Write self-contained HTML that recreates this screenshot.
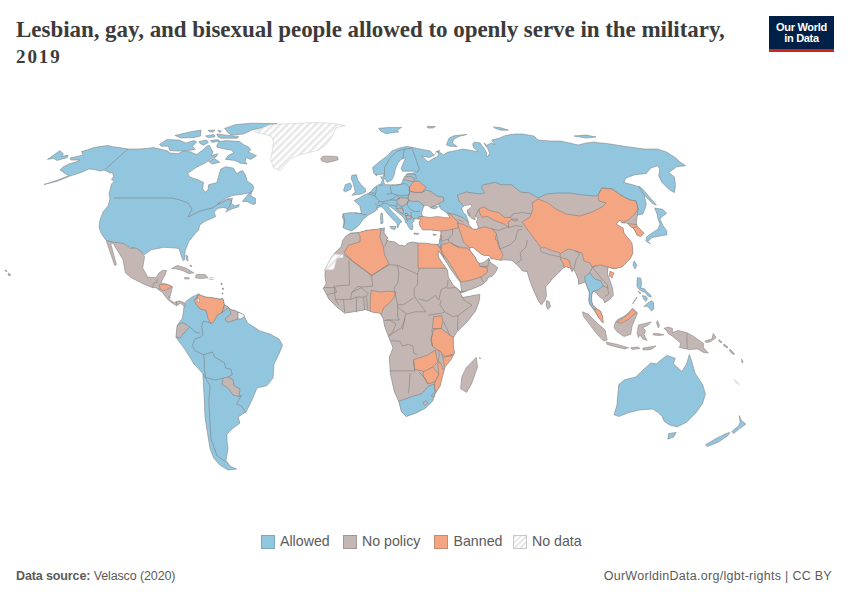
<!DOCTYPE html>
<html><head><meta charset="utf-8">
<style>
html,body{margin:0;padding:0;background:#fff;}
body{width:850px;height:600px;position:relative;overflow:hidden;font-family:"Liberation Sans",sans-serif;}
#title{position:absolute;left:16px;top:17px;width:740px;font-family:"Liberation Serif",serif;font-weight:bold;font-size:23px;line-height:25.5px;color:#3b3b3b;margin:0;letter-spacing:-0.04px}
#logo{position:absolute;left:769px;top:16px;width:65px;height:33px;background:#002147;border-bottom:3px solid #ce261e;color:#fff;font-weight:bold;font-size:11px;line-height:11px;text-align:center;}
#logo div{padding-top:6px;letter-spacing:-0.3px}
.leg{position:absolute;top:534px;height:14px;}
.sw{position:absolute;top:534.5px;width:14px;height:14px;border:1px solid #999;box-sizing:border-box;}
.lt{position:absolute;top:533px;font-size:14.2px;color:#5b5b5b;line-height:17px;}
#src{position:absolute;left:16px;top:569px;font-size:12.5px;color:#5b5b5b;letter-spacing:-0.12px}
#url{position:absolute;right:18px;top:569px;font-size:12.5px;color:#5b5b5b;letter-spacing:0.28px}
svg#map{position:absolute;left:0;top:0;}
.coast{stroke:#808080;stroke-width:0.55;stroke-linejoin:round}
.bord{stroke:#7a7a7a;stroke-width:0.55;stroke-linejoin:round}
.nd{stroke:#d0d0d0;stroke-width:0.6}
</style></head><body>
<div id="title">Lesbian, gay, and bisexual people allowed to openly serve in the military,<br><span style="font-size:19px;letter-spacing:1.9px">2019</span></div>
<div id="logo"><div>Our World<br>in Data</div></div>
<svg id="map" width="850" height="600" viewBox="0 0 850 600">
<defs>
<pattern id="hatch" patternUnits="userSpaceOnUse" width="5" height="5" patternTransform="rotate(45)"><rect width="5" height="5" fill="#fff"/><rect x="0" y="0" width="2.4" height="5" fill="#e6e6e6"/></pattern><pattern id="hatch2" patternUnits="userSpaceOnUse" width="4" height="4" patternTransform="rotate(45)"><rect width="4" height="4" fill="#fff"/><rect x="0" y="0" width="1.7" height="4" fill="#e2e2e2"/></pattern>
<clipPath id="clip_ae"><polygon points="377.1,175.7 373.5,173 372.6,167.5 379,162 386.3,156.5 391.8,151 399.1,148.2 406.5,146.4 412,147.3 421.1,149.2 430.3,151 434.1,155.3 437.6,154.1 436.5,151.2 440,150.6 435,156 436.9,151.4 441.6,153.2 443.5,155.1 447.2,152.3 453.8,150.9 463.2,149 468.9,150 476.4,151.4 478.3,151.8 473.6,147.6 472.6,143.8 474.5,142 480.1,142.9 482.1,145.7 484.9,149.5 486.8,153.2 486.3,156.1 487.7,156.5 489.6,153.2 487.7,148.5 484.9,144.8 483.9,142.9 486.8,145.2 491.5,142.9 495.2,144.8 491.5,140.1 499,138.2 505.6,135.4 515,134 522,134 534,136 538,140 550,141 560,141 570,143 578,145 586,143 594,142 600,143 603.5,143 626,146.5 644,149 657.5,149 666.5,152 675.5,157.8 680,162 685.7,165.7 676.7,166.8 668.8,172.4 674.4,177 675.5,184.8 674.4,192.7 668.8,189.3 662,182.5 658.7,175.8 659.8,169 657.5,165.7 650.8,168 646.3,173.5 635,174.7 626,178 623.8,182.5 632.8,184.8 639.5,187 644,193.8 646.3,205 642.9,214 637.3,215.2 636.2,223 637.3,226.4 644,233.2 640.7,236.6 637.3,235.4 635,231 632.8,227.6 631.6,227.6 627.1,223 622,223 620,220 616,224 623,228 624,233 632,243 633,253 630,259 622,267 614,269 608,267 607.3,274 610,280.7 612.7,288.7 613.3,295.3 610,299.3 604.7,302.7 603.3,299.3 598.7,296 596,292.5 593.3,291.3 592,294 591.3,299.3 592.7,304.7 596.7,308.7 600.7,311.3 602.7,316.7 603.3,322.7 602,322 598,316.7 594,310 590,304.7 588.7,300.7 589.3,292.7 587.3,287.3 585.3,282 582,283.1 578.5,284.3 578.5,279.7 576.1,273.8 573.8,269.2 572,271.5 570.3,268 565.6,266.8 563.3,268 558.6,272.7 551.6,279.7 545.8,286.6 546.4,296 544.7,300.6 541.2,304.7 537.7,299.5 533,289 529.5,279.7 527.2,271.5 522.5,270.9 520.2,268 516.7,264.5 512,260.4 505,259.8 500,260.3 494.8,259.1 491,258.8 490.3,256.5 488,255.4 485,255.8 481.3,254.3 477.5,251.3 473,247.5 470,247.5 470,250.5 475.3,257.3 477.5,261.8 479.8,263.3 483.5,262.5 486.5,260.3 488.8,258 489.5,259.5 490.3,262.5 494,264.8 497.8,267.8 495.5,272.3 492.5,276 488,277.5 486.7,280.8 481.7,285 475.8,287.5 469.2,290 462.5,292.5 461.7,292.5 460.4,282.5 456.7,277.5 451.3,270 445.4,260.5 440,252.5 438.3,251 438.3,256.7 443,264 447.5,270 448.3,276.7 452.5,284.2 456.7,288.3 461.3,292.5 460.8,294.2 462.5,297.5 469.2,296.3 475.8,295 480,294.6 479,301.7 475.5,311 468.5,320.3 461.5,327.4 456.8,332 453.3,337.9 453.3,344.9 454.5,353 451,359.7 445,367 442.5,376.7 440,386.3 435.2,393.6 432.8,400.8 425.6,408 416,413 406.2,416.5 401.4,411.7 399,402 394.2,391.2 390.5,374.2 389.3,357.3 393,347.7 388.1,335.6 384.5,326 383.3,318.7 380,313.2 373,312.3 365.9,309.7 355.3,311.5 344.7,313.2 335.9,306.2 328.8,299 325.3,292 323.2,288.5 326.2,283.8 325,276.8 325,269.8 328.5,262.8 330.8,258.2 333.7,254.1 335.5,252.3 341.3,246.5 342.5,240.7 346,236 350.7,233.1 358.8,232.5 367,230.2 378.6,229 384.5,227.8 384,233 388,238 386,240 389,241 395,242 399,245 405,246 408,243 413,242 418,243 425,243 431,244 438.2,244.5 439.1,244 439.7,240.1 440.4,236.5 441,233 440.8,231 440,231 431,230 423,230 420,226 419,222 421,219.5 419,219 417,218 413,219 414.5,221 412,223 413,227 412,230 410,229 408,226 407,223 405.5,223 405,220 403,217 399,213.5 394,209.5 390,206.5 388.5,207.5 392.5,212 397,216.5 401,220.5 402,222 400,222.5 399,225 397.5,228 397,223.5 395,221.5 391,217.5 387,213 384,209 381,206.5 377,208 375.4,211.2 368,215.3 363,219.4 359.7,224.4 356.4,227.7 351.5,231 346.5,229.3 343.2,227.7 344,221 342.4,217 343.2,213.7 351.5,212.5 361.4,213.7 360,206 354,200.5 358,198.8 363.5,195.3 368.2,193.5 370.6,191.8 374.1,187.6 377.6,185.3 381.2,183.5 382.4,180 380.6,176.5 383.5,177.6 383,173.5 380,174.7 375.3,174.7"/></clipPath>
<clipPath id="clip_sa"><polygon points="184,305.6 185.6,301.7 192,297 199,293.7 196,298.5 199,294.5 203,296 206,297 212.6,297.7 219.8,299 223,298.5 224.5,304.8 228.5,307.2 230.9,309.6 235,310.4 238,312 243.6,314.4 247.5,323 254,327 260,331 270,334 279,339 282.5,345 279,354 274,364 273,378 267,385.6 257,388 252,400 246,412 238,417 240,423 232,429 227,434 227,441 228,448.4 226,460.5 230.6,466.5 236.6,469 228,470 219.7,465 213.7,458 210,448.4 207.6,434 205,417 204,395 202.8,373.5 194,364 184.7,349 176,337.4 176,336 177,326 177.7,324.7 182.5,318 184,307"/></clipPath>
</defs>
<g id="land" stroke="#777" stroke-width="0.5" stroke-linejoin="round">
<polygon points="377.1,175.7 373.5,173 372.6,167.5 379,162 386.3,156.5 391.8,151 399.1,148.2 406.5,146.4 412,147.3 421.1,149.2 430.3,151 434.1,155.3 437.6,154.1 436.5,151.2 440,150.6 435,156 436.9,151.4 441.6,153.2 443.5,155.1 447.2,152.3 453.8,150.9 463.2,149 468.9,150 476.4,151.4 478.3,151.8 473.6,147.6 472.6,143.8 474.5,142 480.1,142.9 482.1,145.7 484.9,149.5 486.8,153.2 486.3,156.1 487.7,156.5 489.6,153.2 487.7,148.5 484.9,144.8 483.9,142.9 486.8,145.2 491.5,142.9 495.2,144.8 491.5,140.1 499,138.2 505.6,135.4 515,134 522,134 534,136 538,140 550,141 560,141 570,143 578,145 586,143 594,142 600,143 603.5,143 626,146.5 644,149 657.5,149 666.5,152 675.5,157.8 680,162 685.7,165.7 676.7,166.8 668.8,172.4 674.4,177 675.5,184.8 674.4,192.7 668.8,189.3 662,182.5 658.7,175.8 659.8,169 657.5,165.7 650.8,168 646.3,173.5 635,174.7 626,178 623.8,182.5 632.8,184.8 639.5,187 644,193.8 646.3,205 642.9,214 637.3,215.2 636.2,223 637.3,226.4 644,233.2 640.7,236.6 637.3,235.4 635,231 632.8,227.6 631.6,227.6 627.1,223 622,223 620,220 616,224 623,228 624,233 632,243 633,253 630,259 622,267 614,269 608,267 607.3,274 610,280.7 612.7,288.7 613.3,295.3 610,299.3 604.7,302.7 603.3,299.3 598.7,296 596,292.5 593.3,291.3 592,294 591.3,299.3 592.7,304.7 596.7,308.7 600.7,311.3 602.7,316.7 603.3,322.7 602,322 598,316.7 594,310 590,304.7 588.7,300.7 589.3,292.7 587.3,287.3 585.3,282 582,283.1 578.5,284.3 578.5,279.7 576.1,273.8 573.8,269.2 572,271.5 570.3,268 565.6,266.8 563.3,268 558.6,272.7 551.6,279.7 545.8,286.6 546.4,296 544.7,300.6 541.2,304.7 537.7,299.5 533,289 529.5,279.7 527.2,271.5 522.5,270.9 520.2,268 516.7,264.5 512,260.4 505,259.8 500,260.3 494.8,259.1 491,258.8 490.3,256.5 488,255.4 485,255.8 481.3,254.3 477.5,251.3 473,247.5 470,247.5 470,250.5 475.3,257.3 477.5,261.8 479.8,263.3 483.5,262.5 486.5,260.3 488.8,258 489.5,259.5 490.3,262.5 494,264.8 497.8,267.8 495.5,272.3 492.5,276 488,277.5 486.7,280.8 481.7,285 475.8,287.5 469.2,290 462.5,292.5 461.7,292.5 460.4,282.5 456.7,277.5 451.3,270 445.4,260.5 440,252.5 438.3,251 438.3,256.7 443,264 447.5,270 448.3,276.7 452.5,284.2 456.7,288.3 461.3,292.5 460.8,294.2 462.5,297.5 469.2,296.3 475.8,295 480,294.6 479,301.7 475.5,311 468.5,320.3 461.5,327.4 456.8,332 453.3,337.9 453.3,344.9 454.5,353 451,359.7 445,367 442.5,376.7 440,386.3 435.2,393.6 432.8,400.8 425.6,408 416,413 406.2,416.5 401.4,411.7 399,402 394.2,391.2 390.5,374.2 389.3,357.3 393,347.7 388.1,335.6 384.5,326 383.3,318.7 380,313.2 373,312.3 365.9,309.7 355.3,311.5 344.7,313.2 335.9,306.2 328.8,299 325.3,292 323.2,288.5 326.2,283.8 325,276.8 325,269.8 328.5,262.8 330.8,258.2 333.7,254.1 335.5,252.3 341.3,246.5 342.5,240.7 346,236 350.7,233.1 358.8,232.5 367,230.2 378.6,229 384.5,227.8 384,233 388,238 386,240 389,241 395,242 399,245 405,246 408,243 413,242 418,243 425,243 431,244 438.2,244.5 439.1,244 439.7,240.1 440.4,236.5 441,233 440.8,231 440,231 431,230 423,230 420,226 419,222 421,219.5 419,219 417,218 413,219 414.5,221 412,223 413,227 412,230 410,229 408,226 407,223 405.5,223 405,220 403,217 399,213.5 394,209.5 390,206.5 388.5,207.5 392.5,212 397,216.5 401,220.5 402,222 400,222.5 399,225 397.5,228 397,223.5 395,221.5 391,217.5 387,213 384,209 381,206.5 377,208 375.4,211.2 368,215.3 363,219.4 359.7,224.4 356.4,227.7 351.5,231 346.5,229.3 343.2,227.7 344,221 342.4,217 343.2,213.7 351.5,212.5 361.4,213.7 360,206 354,200.5 358,198.8 363.5,195.3 368.2,193.5 370.6,191.8 374.1,187.6 377.6,185.3 381.2,183.5 382.4,180 380.6,176.5 383.5,177.6 383,173.5 380,174.7 375.3,174.7" fill="#92c5de" stroke="none"/>
<polygon points="184,305.6 185.6,301.7 192,297 199,293.7 196,298.5 199,294.5 203,296 206,297 212.6,297.7 219.8,299 223,298.5 224.5,304.8 228.5,307.2 230.9,309.6 235,310.4 238,312 243.6,314.4 247.5,323 254,327 260,331 270,334 279,339 282.5,345 279,354 274,364 273,378 267,385.6 257,388 252,400 246,412 238,417 240,423 232,429 227,434 227,441 228,448.4 226,460.5 230.6,466.5 236.6,469 228,470 219.7,465 213.7,458 210,448.4 207.6,434 205,417 204,395 202.8,373.5 194,364 184.7,349 176,337.4 176,336 177,326 177.7,324.7 182.5,318 184,307" fill="#92c5de" stroke="none"/>
<polygon points="315,238 330,238 350,233.5 357,232.2 366,230.5 380,228.5 386,232 400,236 420,240 434,243 438.5,245 441,255 448,266 455,278 460,291.8 470,291 483,289 495,289 500,300 480,360 450,425 330,425 315,300" fill="#c4b7b3" stroke="#7a7a7a" stroke-width="0.55" clip-path="url(#clip_ae)"/>
<polygon points="417.5,218.5 419,216.8 423,216.5 425,213 440,213 447,212.6 456.5,215 463.5,218 468.2,222 470,215 463.5,205.6 458.8,200.9 457.6,195 466,192 480,194 484.7,192.8 481.7,188.2 482.3,185.2 495.2,182.3 501,184.7 511.5,184.7 520.8,192.2 529,192.8 538.3,198 546.5,194 557,193 570,193 582,195 596,196 598,195 602,188 612,189 622,196 630,200 636,201 638,209 637.3,215.2 650,220 660,300 610,330 580,330 540,310 500,300 495,289 483,289 470,291 460,291.8 455,278 448,266 441,255 438.5,245 439,238 441,232 440,234 425,234 416,226 418,221" fill="#c4b7b3" stroke="#7a7a7a" stroke-width="0.55" clip-path="url(#clip_ae)"/>
<polygon points="409,190 411,191.5 417,192.5 423,192 426,190 431,191.5 437,196 443,197 444,201 440,203 435,206 431,207 433,209 428,208 425,207 422,204 418,201 413,201.5 409,200.5 408,197 409.5,193" fill="#c4b7b3" stroke="#7a7a7a" stroke-width="0.55" clip-path="url(#clip_ae)"/>
<polygon points="401,177.6 404,176.8 410.6,176.5 415.3,178.8 412.9,181.8 405.9,180 401,180" fill="#c4b7b3" stroke="#7a7a7a" stroke-width="0.55" clip-path="url(#clip_ae)"/>
<polygon points="397,199.5 400,197.5 408,198 408.5,200.5 406,204.5 401.5,206.5 397,203.5" fill="#c4b7b3" stroke="#7a7a7a" stroke-width="0.55" clip-path="url(#clip_ae)"/>
<polygon points="396,208.5 401.5,208 403.5,211 403,214 400,212.5" fill="#c4b7b3" stroke="#7a7a7a" stroke-width="0.55" clip-path="url(#clip_ae)"/>
<polygon points="405,213.5 407.5,213.5 408,216 405.5,216" fill="#c4b7b3" stroke="#7a7a7a" stroke-width="0.55" clip-path="url(#clip_ae)"/>
<polygon points="406,215.5 411,216 411,219 406.5,219" fill="#c4b7b3" stroke="#7a7a7a" stroke-width="0.55" clip-path="url(#clip_ae)"/>
<polygon points="409.5,187 413.5,181.5 419,181 422,184 426.5,187.5 424,189.5 423,192 417,192.5 411,191.5 409,190" fill="#f4a582" stroke="#7a7a7a" stroke-width="0.55" clip-path="url(#clip_ae)"/>
<polygon points="417.5,218.5 419,216.8 423,216.5 425,213 440,213 450,214 457,221 458.6,225 457.6,228 453,229.1 447,230.3 441,231 440,234 425,234 416,226 418,221" fill="#f4a582" stroke="#7a7a7a" stroke-width="0.55" clip-path="url(#clip_ae)"/>
<polygon points="357.5,232 366,229.8 378,228.5 381,228.5 379.8,237.2 383.3,246.5 384.5,254.7 389.1,264 371.6,275.6 353,261.6 344.2,252.3 348.3,245.3 360,241.8 360,236" fill="#f4a582" stroke="#7a7a7a" stroke-width="0.55" clip-path="url(#clip_ae)"/>
<polygon points="418,236 437,238 439,245 440.5,249 442,253 445.5,261 448,268.2 418,268.2" fill="#f4a582" stroke="#7a7a7a" stroke-width="0.55" clip-path="url(#clip_ae)"/>
<polygon points="371.2,290.3 380,292 388.8,291.2 395.9,292 394.1,297.3 389.7,302.6 383.5,308 380,318 370,316 370.3,299" fill="#f4a582" stroke="#7a7a7a" stroke-width="0.55" clip-path="url(#clip_ae)"/>
<polygon points="433.5,316.8 441.7,315.7 442.8,321.5 441.1,328.5 432.3,328.5" fill="#f4a582" stroke="#7a7a7a" stroke-width="0.55" clip-path="url(#clip_ae)"/>
<polygon points="433.5,329.7 441.1,328.5 452.2,336.7 458,338 460,353 455.7,353.6 445.2,356.5 438.2,350.7 432.3,346 431.2,339" fill="#f4a582" stroke="#7a7a7a" stroke-width="0.55" clip-path="url(#clip_ae)"/>
<polygon points="413.5,359.7 428,355 435.2,350 437.7,362.2 432.8,367 425.6,371.8 414.7,369.4" fill="#f4a582" stroke="#7a7a7a" stroke-width="0.55" clip-path="url(#clip_ae)"/>
<polygon points="423.2,371.8 432.8,367 438.9,374.2 435.2,381.5 428,384 423.2,376.7" fill="#f4a582" stroke="#7a7a7a" stroke-width="0.55" clip-path="url(#clip_ae)"/>
<polygon points="442.5,357.3 454.6,355 460,355 455,370 445,369.4 442.5,379 440,388.7 438,396 435.2,392.4 434,384 438.9,374.2 437.7,364.6" fill="#f4a582" stroke="#7a7a7a" stroke-width="0.55" clip-path="url(#clip_ae)"/>
<polygon points="457.6,223.2 463.5,224.4 468.2,226.8 475.3,229.1 484.7,226.8 492.9,229.1 496.5,233.8 495.3,239.7 497,240 498.5,246 503,255 500.8,260.3 500.8,262 491,259.5 490,257.3 486,256.7 481,255.3 477,252.5 470,248.2 468.2,246.8 463.5,242 461.2,235 458.8,228" fill="#f4a582" stroke="#7a7a7a" stroke-width="0.55" clip-path="url(#clip_ae)"/>
<polygon points="441.2,249.7 442,244.2 446.7,243.6 449,241.8 454.2,245.3 462.4,247.7 467.7,248.2 470,250.5 475.3,257.3 479,263.3 479.8,266.3 487.3,267.8 487.3,272.3 481.3,276.8 470,280.5 461,282 457.3,276 452.5,268 448.2,261 444,255.3" fill="#f4a582" stroke="#7a7a7a" stroke-width="0.55" clip-path="url(#clip_ae)"/>
<polygon points="478.8,209.1 483.5,206.8 489.4,210.3 494.1,211.5 498.8,212.6 504.7,217.4 510.6,217.4 511.8,219.7 508.2,222 508.8,227.4 504.7,224.4 498.8,222 492.9,219.7 487,216.2 482.4,217.4 480,213.8" fill="#f4a582" stroke="#7a7a7a" stroke-width="0.55" clip-path="url(#clip_ae)"/>
<polygon points="512,219 517.6,219 517.6,220.5 513,221" fill="#f4a582" stroke="#7a7a7a" stroke-width="0.55" clip-path="url(#clip_ae)"/>
<polygon points="522,222 530,217 533,209 532,203 538,199 548,203 556,209 566,214 580,216 592,212 602,207 606,203 599,201 598,195 602,188 612,189 622,196 630,200 636,201 638,209 634,215 628,220 622,223 640,225 640,260 625,272 614,269 608,267 600,265 592,267 590,263 584,261 582,253 576,251 568,249 560,254 550,251 542,249 536,241 530,233" fill="#f4a582" stroke="#7a7a7a" stroke-width="0.55" clip-path="url(#clip_ae)"/>
<polygon points="632.8,227.6 637.3,226.4 646,232 642,239 636,237 635,231" fill="#f4a582" stroke="#7a7a7a" stroke-width="0.55" clip-path="url(#clip_ae)"/>
<polygon points="560.4,257.5 565.6,258.7 569.1,260.4 570.3,264.5 572,269.2 574,272 565,272 563.3,263.3 561,260.4" fill="#f4a582" stroke="#7a7a7a" stroke-width="0.55" clip-path="url(#clip_ae)"/>
<polygon points="594,310 596.7,308.7 600.7,311.3 602.7,316.7 605,323 600,323 598,316.7" fill="#f4a582" stroke="#7a7a7a" stroke-width="0.55" clip-path="url(#clip_ae)"/>
<polygon points="437,239.5 439.7,240.1 441.4,239.5 440.8,244.2 440.2,248.2 439.1,246.5 437,245" fill="#92c5de" stroke="#7a7a7a" stroke-width="0.55" clip-path="url(#clip_ae)"/>
<polygon points="438,235.4 440.8,235.4 442,236 441.4,239.5 440.2,238.9 438,238.9" fill="#f4a582" stroke="#7a7a7a" stroke-width="0.55" clip-path="url(#clip_ae)"/>
<polygon points="395,402 400.2,400.8 413.5,396 422,393.6 428,386.3 434,384 435.2,393.6 440,395 440,420 395,420" fill="#92c5de" stroke="#7a7a7a" stroke-width="0.55" clip-path="url(#clip_ae)"/>
<polygon points="584.7,276.7 590,272.7 592.7,276.7 595.3,279.3 600.7,280.7 603.3,286 598,290 593.3,291.3 592,294 591.3,299.3 592.7,304.7 596.7,308.7 594.7,309.3 590,304.7 588.7,300.7 589.3,292.7 587.3,287.3 585.3,282" fill="#92c5de" stroke="#7a7a7a" stroke-width="0.55" clip-path="url(#clip_ae)"/>
<polygon points="196,298.5 199,294.5 203,296 206,297 212.6,297.7 219.8,299 223,298.5 224.5,304.8 222,312.8 217.4,315 214,321.5 211,324 208,318.3 206,310.4 200,309 196,304 194,300" fill="#f4a582" stroke="#7a7a7a" stroke-width="0.55" clip-path="url(#clip_sa)"/>
<polygon points="224.5,304.8 228.5,307.2 230.9,309.6 235,310.4 239.6,312.8 238,319 233,320.7 227.7,322.3 225,319 231,313.6 228.5,307.2 222,312.8" fill="#c4b7b3" stroke="#7a7a7a" stroke-width="0.55" clip-path="url(#clip_sa)"/>
<polygon points="238,312 243.6,313.6 245,316 241,319 238,319" fill="#f4f4f4" stroke="#7a7a7a" stroke-width="0.55" clip-path="url(#clip_sa)"/>
<polygon points="170,326 177,326 181,323 184,323 189.6,327 185.6,331 180,338 176,337 170,336" fill="#c4b7b3" stroke="#7a7a7a" stroke-width="0.55" clip-path="url(#clip_sa)"/>
<polygon points="223,378.3 228,377 233,379.5 234,385.6 240,389 239,396.5 233,395 228,388 222,384.4" fill="#c4b7b3" stroke="#7a7a7a" stroke-width="0.55" clip-path="url(#clip_sa)"/>
<polygon points="377.1,175.7 373.5,173 372.6,167.5 379,162 386.3,156.5 391.8,151 399.1,148.2 406.5,146.4 412,147.3 421.1,149.2 430.3,151 434.1,155.3 437.6,154.1 436.5,151.2 440,150.6 435,156 436.9,151.4 441.6,153.2 443.5,155.1 447.2,152.3 453.8,150.9 463.2,149 468.9,150 476.4,151.4 478.3,151.8 473.6,147.6 472.6,143.8 474.5,142 480.1,142.9 482.1,145.7 484.9,149.5 486.8,153.2 486.3,156.1 487.7,156.5 489.6,153.2 487.7,148.5 484.9,144.8 483.9,142.9 486.8,145.2 491.5,142.9 495.2,144.8 491.5,140.1 499,138.2 505.6,135.4 515,134 522,134 534,136 538,140 550,141 560,141 570,143 578,145 586,143 594,142 600,143 603.5,143 626,146.5 644,149 657.5,149 666.5,152 675.5,157.8 680,162 685.7,165.7 676.7,166.8 668.8,172.4 674.4,177 675.5,184.8 674.4,192.7 668.8,189.3 662,182.5 658.7,175.8 659.8,169 657.5,165.7 650.8,168 646.3,173.5 635,174.7 626,178 623.8,182.5 632.8,184.8 639.5,187 644,193.8 646.3,205 642.9,214 637.3,215.2 636.2,223 637.3,226.4 644,233.2 640.7,236.6 637.3,235.4 635,231 632.8,227.6 631.6,227.6 627.1,223 622,223 620,220 616,224 623,228 624,233 632,243 633,253 630,259 622,267 614,269 608,267 607.3,274 610,280.7 612.7,288.7 613.3,295.3 610,299.3 604.7,302.7 603.3,299.3 598.7,296 596,292.5 593.3,291.3 592,294 591.3,299.3 592.7,304.7 596.7,308.7 600.7,311.3 602.7,316.7 603.3,322.7 602,322 598,316.7 594,310 590,304.7 588.7,300.7 589.3,292.7 587.3,287.3 585.3,282 582,283.1 578.5,284.3 578.5,279.7 576.1,273.8 573.8,269.2 572,271.5 570.3,268 565.6,266.8 563.3,268 558.6,272.7 551.6,279.7 545.8,286.6 546.4,296 544.7,300.6 541.2,304.7 537.7,299.5 533,289 529.5,279.7 527.2,271.5 522.5,270.9 520.2,268 516.7,264.5 512,260.4 505,259.8 500,260.3 494.8,259.1 491,258.8 490.3,256.5 488,255.4 485,255.8 481.3,254.3 477.5,251.3 473,247.5 470,247.5 470,250.5 475.3,257.3 477.5,261.8 479.8,263.3 483.5,262.5 486.5,260.3 488.8,258 489.5,259.5 490.3,262.5 494,264.8 497.8,267.8 495.5,272.3 492.5,276 488,277.5 486.7,280.8 481.7,285 475.8,287.5 469.2,290 462.5,292.5 461.7,292.5 460.4,282.5 456.7,277.5 451.3,270 445.4,260.5 440,252.5 438.3,251 438.3,256.7 443,264 447.5,270 448.3,276.7 452.5,284.2 456.7,288.3 461.3,292.5 460.8,294.2 462.5,297.5 469.2,296.3 475.8,295 480,294.6 479,301.7 475.5,311 468.5,320.3 461.5,327.4 456.8,332 453.3,337.9 453.3,344.9 454.5,353 451,359.7 445,367 442.5,376.7 440,386.3 435.2,393.6 432.8,400.8 425.6,408 416,413 406.2,416.5 401.4,411.7 399,402 394.2,391.2 390.5,374.2 389.3,357.3 393,347.7 388.1,335.6 384.5,326 383.3,318.7 380,313.2 373,312.3 365.9,309.7 355.3,311.5 344.7,313.2 335.9,306.2 328.8,299 325.3,292 323.2,288.5 326.2,283.8 325,276.8 325,269.8 328.5,262.8 330.8,258.2 333.7,254.1 335.5,252.3 341.3,246.5 342.5,240.7 346,236 350.7,233.1 358.8,232.5 367,230.2 378.6,229 384.5,227.8 384,233 388,238 386,240 389,241 395,242 399,245 405,246 408,243 413,242 418,243 425,243 431,244 438.2,244.5 439.1,244 439.7,240.1 440.4,236.5 441,233 440.8,231 440,231 431,230 423,230 420,226 419,222 421,219.5 419,219 417,218 413,219 414.5,221 412,223 413,227 412,230 410,229 408,226 407,223 405.5,223 405,220 403,217 399,213.5 394,209.5 390,206.5 388.5,207.5 392.5,212 397,216.5 401,220.5 402,222 400,222.5 399,225 397.5,228 397,223.5 395,221.5 391,217.5 387,213 384,209 381,206.5 377,208 375.4,211.2 368,215.3 363,219.4 359.7,224.4 356.4,227.7 351.5,231 346.5,229.3 343.2,227.7 344,221 342.4,217 343.2,213.7 351.5,212.5 361.4,213.7 360,206 354,200.5 358,198.8 363.5,195.3 368.2,193.5 370.6,191.8 374.1,187.6 377.6,185.3 381.2,183.5 382.4,180 380.6,176.5 383.5,177.6 383,173.5 380,174.7 375.3,174.7" fill="none" class="coast"/>
<polygon points="184,305.6 185.6,301.7 192,297 199,293.7 196,298.5 199,294.5 203,296 206,297 212.6,297.7 219.8,299 223,298.5 224.5,304.8 228.5,307.2 230.9,309.6 235,310.4 238,312 243.6,314.4 247.5,323 254,327 260,331 270,334 279,339 282.5,345 279,354 274,364 273,378 267,385.6 257,388 252,400 246,412 238,417 240,423 232,429 227,434 227,441 228,448.4 226,460.5 230.6,466.5 236.6,469 228,470 219.7,465 213.7,458 210,448.4 207.6,434 205,417 204,395 202.8,373.5 194,364 184.7,349 176,337.4 176,336 177,326 177.7,324.7 182.5,318 184,307" fill="none" class="coast"/>
<polygon points="44,184.5 58,180 69,175.5 65,173.5 60,170 63,167 69,164 76,162 80,160 71,160 70,158 79,156 83,155 81.5,151.5 87,150 94,147.5 100,146.5 108,145.5 113,146.8 119,147.5 128,149 140,149 150,148.1 152.8,147.6 157.5,148.6 162.2,149.5 167.9,151 168.8,152.8 178.2,153.8 183,151 191.4,151.9 194.2,153.8 198,154.2 198.9,152.8 202.7,150 206.5,146.2 209.3,145.3 211.2,149 213.1,151.9 211.2,155.6 217.8,153.8 216,157 211,158.5 205,163 196,167.5 187.7,173.5 190,177.2 197.5,179.5 203.5,182.5 202.7,188.5 205,192.2 208,190 208.7,184.7 217,182.5 218.5,176.5 220.7,169 226,166.7 233.5,168.2 236.5,173.5 242.5,170.5 245.5,175 247,181 252.3,184.6 253.9,187.6 252.3,191.5 248.5,193 240.9,194.5 233.2,195.3 227.1,197.6 221.8,201.4 217.9,203.7 221.8,203 227.1,199.1 232.5,198.3 231,203 234.8,206 239.3,204.5 238.6,206.8 231.7,209 225.6,212.1 227.9,209 224,207.5 218,208.3 214.1,212.1 215.6,216.7 210.3,219 205,221.3 199.6,225 198.7,230 195.4,233.3 188.8,241.5 185,251 184.7,259.7 183.1,260.5 181,255 179,248.6 175.7,248.1 164.1,247.3 151,249.8 144.4,254.7 138,249 129,247 125,244 116,243 107,241 105,239 101,233 99,227 100,220 103,212 108,206 110,199 109,194 110,190 111.5,184 114.5,181 111.5,179.5 113.5,176.5 112.5,172.2 110,173 104.5,170 100,171 94,169.5 89,169 82,172.2 70,176 58,181" fill="#92c5de" class="coast"/>
<polygon points="242.4,201.4 248.5,193.8 251.6,191.5 250.8,196 255.4,198.3 255.4,203.7 253.1,204.5 250,203 247,201.4" fill="#92c5de" class="coast"/>
<polygon points="216.9,145.3 218.8,141.5 226.4,140.6 239.5,141.5 243.3,144.4 248.9,147.2 250.8,150 248,151.9 256.5,155.6 250.8,159.4 246.1,157.5 245.2,161.3 247.1,164.1 240.5,163.2 234.8,160.4 225.4,159.4 228.2,155.6 234,152.5 231,150 224.5,149 216.9,147.2" fill="#92c5de" class="coast"/>
<polygon points="208.5,161.3 214.1,158.5 219.8,162.2 212.2,164.1" fill="#92c5de" class="coast"/>
<polygon points="159.4,144.4 166.9,139.6 179.2,140.1 185.8,143 194.2,140.6 196.6,142 192.4,146.2 195.2,149.5 187.6,150.5 178.2,151.1 169.8,150.5 168.4,146.2 161.3,146.2" fill="#92c5de" class="coast"/>
<polygon points="175,135.5 189.5,132 201,130 200.5,136 194,137.5 181,138" fill="#92c5de" class="coast"/>
<polygon points="205.5,135.9 214,134.5 215,136.8 208.4,137.8" fill="#92c5de" class="coast"/>
<polygon points="208.4,130.2 215,130.2 213,132.1 209.3,131.6" fill="#92c5de" class="coast"/>
<polygon points="217.8,130.2 221.5,131.2 219.6,132.6" fill="#92c5de" class="coast"/>
<polygon points="199,141.5 206.5,140.1 208.4,142.5 203.6,145.3 199.9,143.4" fill="#92c5de" class="coast"/>
<polygon points="210.2,140.6 217.8,139.6 219.6,141 212.1,142.5" fill="#92c5de" class="coast"/>
<polygon points="216.9,134 228.2,135.4 238.6,136.4 237.6,138.2 220.7,138.2 217.9,136.8" fill="#92c5de" class="coast"/>
<polygon points="224.5,128.4 230.1,126.5 235.8,124.6 250.8,123.2 277.2,123.6 269.6,126 252.7,129.8 243.3,134 231,135 227.3,132.1 226.4,130.2" fill="#92c5de" class="coast"/>
<polygon points="47.5,159.5 60,150.5 63.5,154 61.5,156.5 68,155 67.5,157.5 62,159 57,160.5 54,158.5 49,159" fill="#92c5de" class="coast"/>
<polygon points="106.5,240.7 114.7,242.4 123,243.2 129.5,248.1 136.1,248.1 141,251.4 144.4,256.4 144.4,258 142.7,267.9 147.7,277 155.9,277.8 159.2,272.8 162.5,270.4 166.6,270.4 165,275.3 162.5,279.4 160.8,282.7 167.4,284.4 172.4,286.8 170.7,294.3 169.1,299.2 174,302.5 179,300.8 183.9,302.5 185.6,305.8 184.7,306.6 180.6,303.3 176.5,305.8 172.4,303.3 167.4,299.2 162.5,292.6 155.9,287.7 152.6,287.7 144.4,284.4 131.2,277.8 125.4,272.8 123,259.7 113,243.2 110.6,243.2 116.4,264.6 114.7,265.4 106.5,241.5" fill="#c4b7b3" class="coast"/>
<polygon points="159.2,284.4 167.4,284.4 172.4,286.8 167.4,289.3 163.3,291 160,288.5" fill="#f4a582" class="coast"/>
<polygon points="171.5,268.7 177.3,265.4 185.6,267.9 193.8,272.8 188.8,273.7 182.3,270.4 175.7,268.7" fill="#c4b7b3" class="coast"/>
<polygon points="196.3,274.5 205.3,274.5 207.8,277.8 200.4,278.6 195.4,277.8" fill="#c4b7b3" class="coast"/>
<polygon points="184.7,277.5 189.7,278 188.5,279 184.5,278.8" fill="#c4b7b3" class="coast"/>
<polygon points="186,255 187.5,256 188,261 186.5,260" fill="#92c5de" class="coast"/>
<polygon points="254.7,131.5 261.8,128 271.2,124.4 285.3,123.8 299.4,123.2 315.9,122.6 332.4,123.2 345.3,125.6 335.9,128 333.5,133.8 330,139.7 325.3,145.6 318.2,150.3 308.8,152.6 299.4,155 291.2,158.5 285.3,164.4 280.6,170.9 273.5,168 270.6,159.7 272.4,150.3 273.5,142 271.2,136.2 262.9,133.8 255.9,132.6" fill="url(#hatch)" class="nd"/>
<polygon points="320.6,158.5 323,156.2 332.4,156.2 337.6,156.8 338.2,159.7 332.4,161.5 326.5,162.6 321.8,160.9" fill="#c4b7b3" class="coast"/>
<polygon points="351.8,175.3 356.5,174.7 357.6,180 361.2,184.7 365.3,188.8 365.9,191.8 361.2,194.1 351.8,195.3 355.3,191.8 354.1,187 352.9,182.4 351.2,178.8" fill="#92c5de" class="coast"/>
<polygon points="343.5,190.6 345.3,184.7 350,183 351.8,185.9 350.6,189.4 345.3,191.8" fill="#92c5de" class="coast"/>
<polygon points="378.7,128.3 389.7,127.4 401.6,127.4 397,130.2 398.9,132 390.6,133 386,133.8 380.5,131" fill="#92c5de" class="coast"/>
<polygon points="427,126.5 435.5,126.5 433,128 428,128" fill="#92c5de" class="coast"/>
<polygon points="446.3,144.8 449.1,138.2 453.8,135.8 467,134.4 459.5,136.3 453.8,139.1 452.4,142.9 457.1,146.6 450.1,146.2" fill="#92c5de" class="coast"/>
<polygon points="493.4,126.9 500.9,127.8 508.4,130.2 500.9,130.2 495.2,128.3" fill="#92c5de" class="coast"/>
<polygon points="574,136 586,135 596,137 586,138" fill="#92c5de" class="coast"/>
<polygon points="638.4,186 642.9,189.3 648.5,196 656.4,205 653,204 646.3,197.2 641.8,191.5" fill="#92c5de" class="coast"/>
<polygon points="654.7,208 662.7,209.3 666.7,213.3 661.3,217.3 660,219 662.7,225.3 666.7,230.7 667,234.7 660,236 652,237.5 648,241.5 650.5,244 646,241 646.5,237 652,233 658,229 660,224 658,219 657.3,214.7" fill="#92c5de" class="coast"/>
<polygon points="634,261 637,265 635,269 633,265" fill="#92c5de" class="coast"/>
<polygon points="610,271 614,273 612,278 609,276" fill="#f4a582" class="coast"/>
<polygon points="546.4,300.6 549.3,301.8 550.5,306.5 548.1,309.4 546.4,306.5" fill="#c4b7b3" class="coast"/>
<polygon points="582.4,311.8 588,314 597,323 605,329.8 607.2,340 603.8,341 597,334.3 590.3,325.3 583.5,316.3" fill="#c4b7b3" class="coast"/>
<polygon points="606,342 617.3,344.4 628.5,347.8 625,349 615,346.7 607.2,344.4" fill="#c4b7b3" class="coast"/>
<polygon points="631,347.5 638,347 640,348.5 632,349.5" fill="#c4b7b3" class="coast"/>
<polygon points="643,348 656,346 651,349.5 643,350" fill="#c4b7b3" class="coast"/>
<polygon points="615,323 617.3,319.7 624,316.3 629.7,311.8 633,308.4 637.5,313 635.3,318.5 632,326.4 630.8,334.3 624,336.5 617.3,332 614,327.5" fill="#c4b7b3" class="coast"/>
<polygon points="637.1,333.4 638.5,324.9 651.2,322 648.4,324.9 642.7,327.7 645.5,330.5 644.1,334.8 646.9,340.4 642.7,339 639.9,334.8 638.5,337.6" fill="#c4b7b3" class="coast"/>
<polygon points="657.5,320.6 659.6,325.6 658.2,327.7 656.5,323" fill="#c4b7b3" class="coast"/>
<polygon points="653.3,333.5 658,333.5 663.9,334.8 659,335.5 653.5,335" fill="#c4b7b3" class="coast"/>
<polygon points="663.9,328.4 668.1,327 672.4,328.4 672.4,332.6 678,330.5 686.5,332.6 693.5,336.2 699.2,340.4 703.4,343.2 703.4,347.5 708.4,353.1 703.4,352.4 697.8,348.9 689.3,349.6 679.4,347.5 680.8,343.2 676.6,339.7 672.4,336.2 668.1,333.4 666.7,330.5" fill="#c4b7b3" class="coast"/>
<polygon points="704.8,341.1 711.9,339 713.3,333.4 716.1,337.6 710.5,341.8 706.2,342.5" fill="#c4b7b3" class="coast"/>
<polygon points="719,339.7 722,342 721,343 718.5,341" fill="#c4b7b3" class="coast"/>
<polygon points="724,344 728,347 727,348 723.5,345.5" fill="#c4b7b3" class="coast"/>
<polygon points="730,349 734.5,353.8 733,354.5 729.5,351" fill="#c4b7b3" class="coast"/>
<polygon points="741.5,359 743,362 742,363" fill="#c4b7b3" class="coast"/>
<polygon points="733.5,379 738,382.5 740,384.5 736,383" fill="url(#hatch)" class="nd"/>
<polygon points="637.4,277.5 640.8,278.3 641.5,282.8 640.8,288 644.5,288.8 646.8,291.8 650.5,294.8 651.3,297 648.3,296.3 645.3,292.5 641.5,291 639.3,289.5 637,286.5 637,281.3" fill="#92c5de" class="coast"/>
<polygon points="638.5,291 640.8,293.3 640,294" fill="#92c5de" class="coast"/>
<polygon points="642.3,295.5 646,296.3 647.5,298.5 646,301.5 643.8,299.3" fill="#92c5de" class="coast"/>
<polygon points="643.8,306.8 646.8,303.8 651.3,300.8 653.5,302.3 653.9,309 651.3,310.9 649,307.5 646,306" fill="#92c5de" class="coast"/>
<polygon points="632.5,303.8 637,297 636.3,298.5 633.3,303" fill="#92c5de" class="coast"/>
<polygon points="618.8,384.5 624.5,379.8 635.8,377 641.4,371.4 650.8,362.9 656.5,363.8 662.1,359.1 666.8,355.4 675.3,358.2 673.4,363.8 681.9,371.4 686.6,363.8 689.4,354.4 692.2,362.9 695.1,373.2 702.6,384.5 705.4,393.9 702.6,403.4 696,412.8 686.6,422.2 677.2,426.9 669.6,425 664,421.2 662.1,416.5 658.4,412.8 652.7,409 639.5,410 628.2,412.8 618.8,416.5 614.1,414.7 616.9,405.2 617.9,394" fill="#92c5de" class="coast"/>
<polygon points="668.7,433.5 676.2,432.5 673.4,437.2 667.8,439.1" fill="#92c5de" class="coast"/>
<polygon points="739.3,415.6 741.2,420.3 745.9,424.1 739.3,428.8 733.6,433.5 731.8,431.6 738.4,426 740.2,422.2" fill="#92c5de" class="coast"/>
<polygon points="729.9,432.5 728,435.4 718.6,442 707.3,446.6 705.4,444.8 716.7,438.2 726.1,433.5" fill="#92c5de" class="coast"/>
<polygon points="476.3,357.3 477.5,367 471.5,384 466.7,392.4 460.6,388.7 461.8,376.7 466.7,367 471.5,362.2" fill="#c4b7b3" class="coast"/>
<polygon points="381,213 382.5,213.5 383,223 381,224 380.5,218" fill="#92c5de" class="coast"/>
<polygon points="390,226.5 396,226.5 395,229.5 391.5,229" fill="#92c5de" class="coast"/>
<polygon points="414,233 419,233.5 418,234.5 414,234" fill="#92c5de" class="coast"/>
<polygon points="433,234 436.5,234.5 435,235.5 433,235" fill="#f4a582" class="coast"/>
<polygon points="438.8,350.2 441.4,352.4 443.5,360.8 444.6,367.7 442.5,369.3 440.9,363 438.2,360.8 439.3,356.6" fill="#c4b7b3" class="coast"/>
<polygon points="423,403 426,400.5 428,403 424.5,405.5" fill="#c4b7b3" class="coast"/>
<polygon points="431.5,395 434,393.5 434.5,396.5 432,397" fill="#c4b7b3" class="coast"/>
<polygon points="540,248.7 543.5,247 551.6,250.5 559.8,252.8 560.4,256.9 549.3,254.6 541.2,251.7" fill="#c4b7b3" class="coast"/>
<polygon points="333.7,254.1 343.1,254.7 343.1,257.6 337.2,258.2 335.5,262.8 334.3,268.6 333.2,269.8 325,269.8 328.5,262.8 330.8,258.2" fill="url(#hatch)" class="nd"/>
<polygon points="616.7,322 623.3,318 628.7,314 632,308.7 636.7,312.7 632.7,315.3 628.7,319.3 620.7,323.3" fill="#f4a582" class="coast"/>
<polygon points="5,270 7,271 6.5,272" fill="#92c5de" class="coast"/>
<polygon points="8.5,273 10.5,274.5 10,276 8,275" fill="#92c5de" class="coast"/>
<polygon points="210,278 213,278 213,279.5 210,279.5" fill="#c4b7b3" class="coast"/>
<polygon points="209,277.5 214,277.5 214,279.5 209,279.5" fill="url(#hatch)" class="nd"/>
<polygon points="221,283 222,283 222,284.5 221,284.5" fill="#c4b7b3" class="coast"/>
<polygon points="222.5,288 223.5,288 223.5,289.5 222.5,289.5" fill="#c4b7b3" class="coast"/>
<polygon points="222,293 223,293 223,294 222,294" fill="#c4b7b3" class="coast"/>
<polygon points="190,265 192,266 191,267" fill="#92c5de" class="coast"/>
<polygon points="479.5,357.5 480.5,358 480,359" fill="#92c5de" class="coast"/>
<polygon points="422,211 424,206 427,205 431,208 435,209 439,206 441,209 447,213 450,218 445,217.5 437,216.5 430,217.5 423,216.5 421.5,214" fill="#fff" class="coast"/>
<polygon points="435,205.5 438,204.5 440.5,206 437,207" fill="#fff" class="coast"/>
<polygon points="461.2,208 464.7,205.6 471.2,204.4 471.8,206.8 467,210.3 468.2,215 471.8,218.5 475.3,219.7 474.7,217.4 476.5,216.2 477.6,218.5 476.5,222 478.2,226.8 477.6,229.1 473,229.1 469.4,225.6 468.2,220.9 465.9,215 463.5,212.6" fill="#fff" class="coast"/>
<polygon points="405.9,157.6 403.5,162.4 401.2,168.2 402.4,171.2 410.6,171.2 415.3,171.2 414.1,172.9 407.1,174.1 404.7,176.5 403.5,178.8 401.2,184.1 395.3,185.3 389.4,184.7 384.7,184.7 383.5,180.5 385,178 387,182.4 391.8,180 394.1,175.3 395.3,169.4 397.6,163.5 401.2,159.4" fill="#fff" class="coast"/>
<polygon points="421.8,155.9 429.4,157.6 434.1,155.3 436.5,151.8 438.8,153 437.6,156.5 432.9,158.8 428.2,161.8 424.7,158.8" fill="#fff" class="coast"/>
<polygon points="197,299 199.5,298.5 199.5,302.5 197.5,302" fill="#fff" class="coast"/>
<polyline points="152.6,287.7 154,283 157,282.5 157,279" fill="none" class="bord"/>
<polyline points="160,288.5 158,289.5" fill="none" class="bord"/>
<polyline points="168,297 170.5,297.5" fill="none" class="bord"/>
<polyline points="176.5,301.5 176.5,305.5" fill="none" class="bord"/>
<polyline points="344,254.7 371.8,275.3 389.4,264.7" fill="none" class="bord"/>
<polyline points="384.5,246.5 388,239.5" fill="none" class="bord"/>
<polyline points="348.9,260.5 349.5,285 335.5,286.1" fill="none" class="bord"/>
<polyline points="371.6,275.6 372.8,286.1 363.5,287 357.6,286.5 351.8,292.4 350.6,299.4" fill="none" class="bord"/>
<polyline points="389.4,264.7 397.6,265.3 417.6,274.1 419.4,268.2" fill="none" class="bord"/>
<polyline points="397.6,265.3 398.8,274.1 397.6,283.5 394.1,288.2 395.3,294.1 397.6,304.7 397.6,316.5 399.4,320 385.9,320" fill="none" class="bord"/>
<polyline points="417.6,274.1 417.6,284.7 414.1,288.2 414.1,295.3 417.6,301.2 425.9,311.8" fill="none" class="bord"/>
<polyline points="351.8,292.4 361.2,287.6 368.2,293.5 364.7,297 356.5,297 350.6,299.4" fill="none" class="bord"/>
<polyline points="356.5,297 356.5,312.4" fill="none" class="bord"/>
<polyline points="363.5,297 364.7,310" fill="none" class="bord"/>
<polyline points="366.5,295.9 367.6,309.4" fill="none" class="bord"/>
<polyline points="343.5,299.4 344.7,312.4" fill="none" class="bord"/>
<polyline points="335.3,299.4 338.8,305.3" fill="none" class="bord"/>
<polyline points="334.1,285.3 335.3,299.4 343.5,299.4 350.6,299.4" fill="none" class="bord"/>
<polyline points="323.5,287.6 335.3,287.6 336.5,292.4 327,294.7" fill="none" class="bord"/>
<polyline points="397.6,304.7 403.5,304.7 414.1,297.6" fill="none" class="bord"/>
<polyline points="397.6,307 407,314.1 415.3,311.8 425.9,311.8" fill="none" class="bord"/>
<polyline points="418.8,298.8 427,301.2 435.3,295.3 438.8,300 441.2,289.4 447,287 448.2,280" fill="none" class="bord"/>
<polyline points="441.2,300 440,304.7 444.7,311.8 442.4,313 428.2,315.3" fill="none" class="bord"/>
<polyline points="444.7,311.8 452.9,316.5 458,315.7 462.7,312.2 472,305.2 464,300 461.5,296" fill="none" class="bord"/>
<polyline points="458,315.7 457.4,330.3" fill="none" class="bord"/>
<polyline points="447,288.2 456.5,287.6 461.2,293" fill="none" class="bord"/>
<polyline points="443.5,321.6 449.9,335.4" fill="none" class="bord"/>
<polyline points="390.6,340.7 400.1,341.2 402.2,346 408.6,344.4 412.8,346 413.9,353.4 417.6,354.5" fill="none" class="bord"/>
<polyline points="388.5,336.5 395.9,331.2 401.2,328 404.4,320.6 405.4,314.2" fill="none" class="bord"/>
<polyline points="384.2,320.6 389.5,320 395.9,323.8 392.7,332.2 388.5,335.4" fill="none" class="bord"/>
<polyline points="389.5,370.9 414.9,370.9" fill="none" class="bord"/>
<polyline points="413.4,360.8 414.9,371.4" fill="none" class="bord"/>
<polyline points="410,373 409.5,383 408.5,393" fill="none" class="bord"/>
<polyline points="419,372 425,378 428,384" fill="none" class="bord"/>
<polyline points="404.7,318.8 402.4,330" fill="none" class="bord"/>
<polyline points="431.9,329.1 432.4,334.4 430.8,339.6 432.9,347" fill="none" class="bord"/>
<polyline points="479.8,266.3 488,266.3 488.8,258.8" fill="none" class="bord"/>
<polyline points="480.5,276.8 483.5,282" fill="none" class="bord"/>
<polyline points="448.4,238.9 449,241.8" fill="none" class="bord"/>
<polyline points="451,242.6 459.6,248.2" fill="none" class="bord"/>
<polyline points="367.5,193.75 371.7,195 375,195.8 376.7,198.3 379.2,200.8 378.3,203.3" fill="none" class="bord"/>
<polyline points="376.7,186.7 375.8,192.5 375,195.8" fill="none" class="bord"/>
<polyline points="369.2,192.5 375,193.3" fill="none" class="bord"/>
<polyline points="379.2,185.4 383.3,185" fill="none" class="bord"/>
<polyline points="390,185.8 390.8,190 391.7,193.3" fill="none" class="bord"/>
<polyline points="386.7,194.2 391.7,193.3 396.7,195 393.3,198.3 390,200" fill="none" class="bord"/>
<polyline points="378.3,201.7 383.3,201.7 390,200" fill="none" class="bord"/>
<polyline points="375,203.3 377.5,205.8 381.7,205 383.3,202.5" fill="none" class="bord"/>
<polyline points="382.5,203.3 387.5,203.3 389.2,205" fill="none" class="bord"/>
<polyline points="390,200 396.7,200 400,198.3 396.7,195" fill="none" class="bord"/>
<polyline points="396.7,195 403.3,195.8 409.2,195" fill="none" class="bord"/>
<polyline points="409.2,186.7 410,190.8 409.2,195" fill="none" class="bord"/>
<polyline points="391.7,185 401.7,184.2 405,183.3 409.5,187" fill="none" class="bord"/>
<polyline points="355,212.5 366.7,215" fill="none" class="bord"/>
<polyline points="376.7,206.7 377.5,210.8" fill="none" class="bord"/>
<polyline points="343.2,213.7 345,222 343,228" fill="none" class="bord"/>
<polyline points="389.2,205 394.2,205.8 396.7,206.7 397,203.5" fill="none" class="bord"/>
<polyline points="401.5,206.5 403.5,211" fill="none" class="bord"/>
<polyline points="406.5,219 408,222" fill="none" class="bord"/>
<polyline points="408.5,200.5 407,205 410,209 414,211.5 420,211.5" fill="none" class="bord"/>
<polyline points="411,212 411,216 414,219 419,219" fill="none" class="bord"/>
<polyline points="384.5,176.6 384.5,167.5 390,158.3 397.3,151 404.6,149.2 403.5,153 402.8,158.3" fill="none" class="bord"/>
<polyline points="404.6,149.2 412,148.2 415.6,158.3 419.3,169.3 416.5,173" fill="none" class="bord"/>
<polyline points="405.9,174.1 415.3,174.1 416.5,178.8" fill="none" class="bord"/>
<polyline points="211,322.7 203,321.3 201.7,326.7 203,334.7 200.3,337.3 195,338.7" fill="none" class="bord"/>
<polyline points="189.7,326.7 195,332 200.3,333.3" fill="none" class="bord"/>
<polyline points="195,338.7 192.3,345.3 195,350.7 200.3,353.3 203.7,354.7" fill="none" class="bord"/>
<polyline points="203.7,354.7 212.3,352 215,357.3 224.3,362.7 225.7,368 231,369.3 232.3,374.7 228,377" fill="none" class="bord"/>
<polyline points="203.7,354.7 204.3,360 204.3,369.3 205.7,377.3" fill="none" class="bord"/>
<polyline points="203,373.5 210,385.6 208.8,402.5 210,422 211,439 217,455.7 225.7,461.7" fill="none" class="bord"/>
<polyline points="205.7,377.3 215,380 223,378.3" fill="none" class="bord"/>
<polyline points="239,396.5 241.5,395.2 236.6,404 241.5,406.1 246.3,413.4" fill="none" class="bord"/>
<polyline points="114,198 172,198 180,200 188,203 192,209 188,217 200,211 212,208 220,203 228,199 232,201 228,209" fill="none" class="bord"/>
<polyline points="128,149 104.5,170" fill="none" class="bord"/>
<polyline points="475.3,216.2 478.8,209.1" fill="none" class="bord"/>
<polyline points="510.6,217.4 513,213.8 522.4,212.6 530.6,213.8" fill="none" class="bord"/>
<polyline points="491.8,229.1 498.8,230.3 504.7,228 508.8,227.4 516.5,225.6 522.4,226.8" fill="none" class="bord"/>
<polyline points="496.5,233.8 500,249.1 510.6,244.4 515.3,239.7 517.6,230.3 522.4,229.1" fill="none" class="bord"/>
<polyline points="527.2,240 526,247 520.2,252.8 521.3,259.8 516.7,263.3" fill="none" class="bord"/>
<polyline points="452.5,229 452.5,234.2 448.4,238.9 442,241.2" fill="none" class="bord"/>
<polyline points="457.6,219.7 463.5,222" fill="none" class="bord"/>
<polyline points="575,250.5 579.6,254 576.1,259.8 573.8,269.2" fill="none" class="bord"/>
<polyline points="590,272.7 592,268 596,265" fill="none" class="bord"/>
<polyline points="592.7,267.3 596.7,272.7 602,279.3 607.3,284.7 608.7,294 604.7,296.7" fill="none" class="bord"/>
<polyline points="603.3,286 608,288" fill="none" class="bord"/>
<polyline points="687,333.2 687,349" fill="none" class="bord"/>
</g>
</svg>
<div class="sw" style="left:260.5px;background:#92c5de;border-color:#7aa8bf"></div><div class="lt" style="left:280px">Allowed</div>
<div class="sw" style="left:343px;background:#c4b7b3;border-color:#a39793"></div><div class="lt" style="left:362px">No policy</div>
<div class="sw" style="left:434px;background:#f4a582;border-color:#c98b6f"></div><div class="lt" style="left:453.5px">Banned</div>
<div class="sw" style="left:512.5px;background:#fff;border-color:#c8c8c8"><svg width="12" height="12" style="position:absolute;left:0;top:0"><rect width="12" height="12" fill="url(#hatch2)"/></svg></div><div class="lt" style="left:532px">No data</div>
<div id="src"><b>Data source:</b> Velasco (2020)</div>
<div id="url">OurWorldinData.org/lgbt-rights | CC BY</div>
</body></html>
